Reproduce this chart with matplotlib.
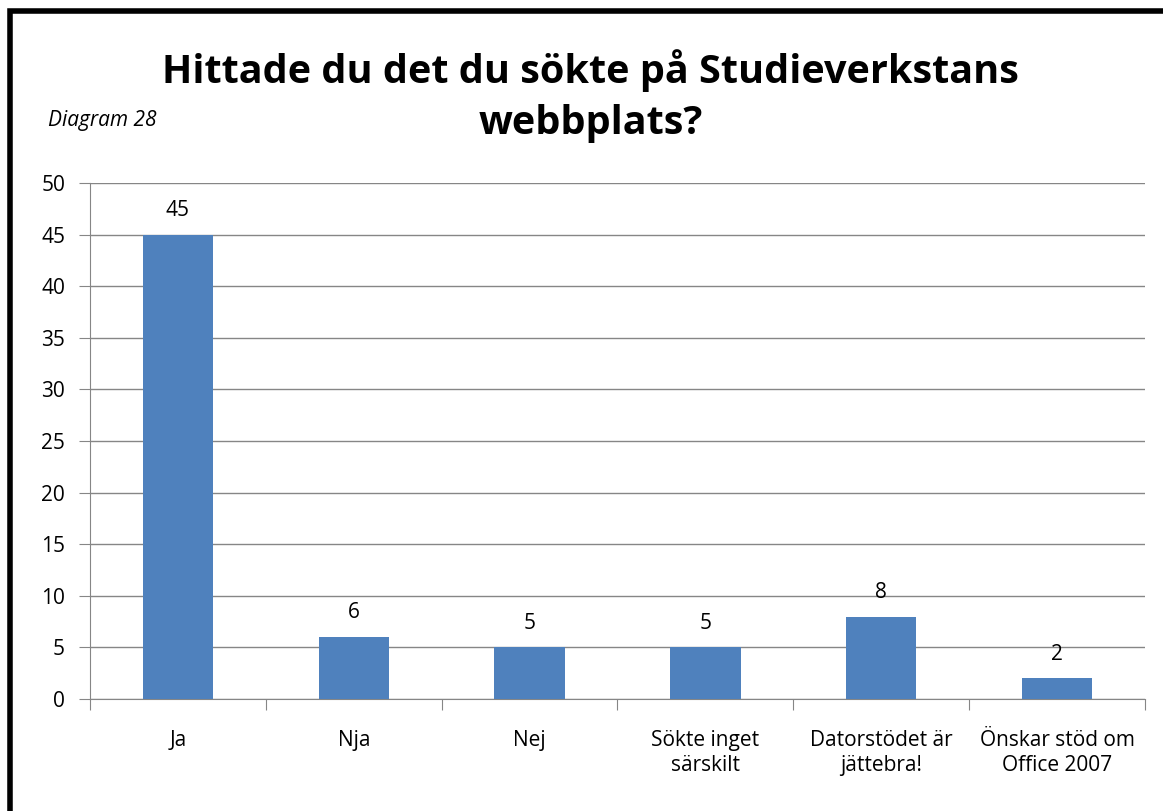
import matplotlib.pyplot as plt
from matplotlib.patches import Rectangle

categories = ["Ja", "Nja", "Nej", "Sökte inget\nsärskilt", "Datorstödet är\njättebra!", "Önskar stöd om\nOffice 2007"]
values = [45, 6, 5, 5, 8, 2]
title = "Hittade du det du sökte på Studieverkstans\nwebbplats?"

plt.rcParams['font.family'] = ['Open Sans', 'DejaVu Sans']

fig = plt.figure(figsize=(11.63, 8.11), dpi=100)
ax = fig.add_axes([0.0774, 0.138, 0.9071, 0.6364])

x = range(len(values))
ax.bar(x, values, width=0.4, color="#4F81BD", zorder=3)
for i, v in enumerate(values):
    ax.annotate(str(v), (i, v), xytext=(0, 10), textcoords="offset points",
                ha="center", va="bottom", fontsize=15)

ax.set_xlim(-0.5, len(values) - 0.5)
ax.set_ylim(0, 50)
ax.set_yticks(range(0, 51, 5))
ax.yaxis.grid(True, color="#868686", linewidth=1, zorder=0)
ax.set_xticks([i + 0.5 for i in range(-1, len(values))])
ax.set_xticklabels([])
ax.set_xticks(list(x), minor=True)
ax.set_xticklabels(categories, minor=True, fontsize=15, linespacing=1.25)
ax.tick_params(axis="x", which="minor", length=0, pad=22)
ax.tick_params(axis="x", which="major", length=8, color="#868686", direction="out")
ax.tick_params(axis="y", length=8, color="#868686", labelsize=15, pad=10)
for s in ["top", "right"]:
    ax.spines[s].set_visible(False)
for s in ["left", "bottom"]:
    ax.spines[s].set_color("#868686")

fig.text(0.508, 0.882, title, ha="center", va="center", fontsize=28.5,
         fontweight="bold", linespacing=1.4)
fig.text(0.041, 0.851, "Diagram 28", ha="left", va="center", fontsize=15, style="italic")

fig.patches.append(Rectangle((0.0085, -0.1), 1.1, 1.086, transform=fig.transFigure,
                             fill=False, edgecolor="black", linewidth=4))

fig.savefig("out.png", dpi=100)
